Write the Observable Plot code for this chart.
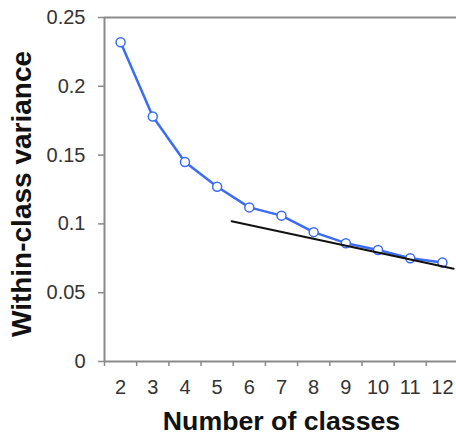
<!DOCTYPE html>
<html>
<head>
<meta charset="utf-8">
<script src="https://cdn.jsdelivr.net/npm/d3@7"></script>
<script src="https://cdn.jsdelivr.net/npm/@observablehq/plot@0.6"></script>
<style>
  html, body { margin: 0; padding: 0; background: #fff; }
  #chart { width: 456px; height: 437px; overflow: hidden; }
</style>
</head>
<body>
<div id="chart"></div>
<script>
// Within-class variance for each number of classes
const classes = [2, 3, 4, 5, 6, 7, 8, 9, 10, 11, 12];
const variance = [0.232, 0.178, 0.145, 0.127, 0.112, 0.106, 0.094, 0.086, 0.081, 0.075, 0.072];

// Straight reference line fitted to the flat tail
const trendX = [5.45, 12.35];
const trendY = [0.102, 0.0674];

// Axis ticks
const yTicks = [0, 0.05, 0.1, 0.15, 0.2, 0.25];
const xTickLabels = ["2", "3", "4", "5", "6", "7", "8", "9", "10", "11", "12"];
const xBounds = [1.5, 2.5, 3.5, 4.5, 5.5, 6.5, 7.5, 8.5, 9.5, 10.5, 11.5, 12.5];

const points = classes.map((c, i) => ({c, v: variance[i]}));
const trend = trendX.map((x, i) => ({x, y: trendY[i]}));

const axisGray = "#8a8a8a";
const blue = "#3b6cf5";

const chart = Plot.plot({
  width: 456,
  height: 437,
  marginTop: 17,
  marginBottom: 76,
  marginLeft: 104,
  marginRight: -2,
  style: {fontFamily: "'Liberation Sans', Arial, sans-serif", background: "#fff", overflow: "hidden"},
  x: {domain: [1.5, 12.5]},
  y: {domain: [0, 0.25]},
  marks: [
    // frame: left, top and bottom edges
    Plot.ruleX([1.5], {y1: 0, y2: 0.25, stroke: axisGray, strokeWidth: 2}),
    Plot.ruleY([0, 0.25], {x1: 1.5, x2: 12.5, stroke: axisGray, strokeWidth: 2}),
    Plot.axisY({
      ticks: yTicks, tickSize: 6, tickPadding: 13, tickFormat: d => `${d}`,
      fontSize: 20, stroke: axisGray, strokeWidth: 1.5, fill: "#333", label: null
    }),
    Plot.axisX({
      ticks: xBounds, tickSize: 5, tickFormat: () => "", stroke: axisGray, strokeWidth: 1.5, label: null
    }),
    Plot.axisX({
      ticks: classes, tickSize: 0, tickPadding: 18, tickFormat: (d, i) => xTickLabels[i],
      fontSize: 20, fill: "#333", label: null
    }),
    Plot.line(points, {x: "c", y: "v", stroke: blue, strokeWidth: 2.5}),
    Plot.dot(points, {x: "c", y: "v", r: 4.5, fill: "#fff", stroke: blue, strokeWidth: 1.5}),
    Plot.line(trend, {x: "x", y: "y", stroke: "#111", strokeWidth: 2}),
    Plot.text(["Within-class variance"], {
      frameAnchor: "left", dx: -82, dy: 4.5, rotate: -90,
      fontSize: 28, fontWeight: "bold", fill: "#111", textAnchor: "middle", lineAnchor: "middle"
    }),
    Plot.text(["Number of classes"], {
      frameAnchor: "bottom", dy: 50, fontSize: 26.7, fontWeight: "bold",
      fill: "#111", textAnchor: "middle", lineAnchor: "top"
    })
  ]
});
document.getElementById("chart").appendChild(chart);
</script>
</body>
</html>
